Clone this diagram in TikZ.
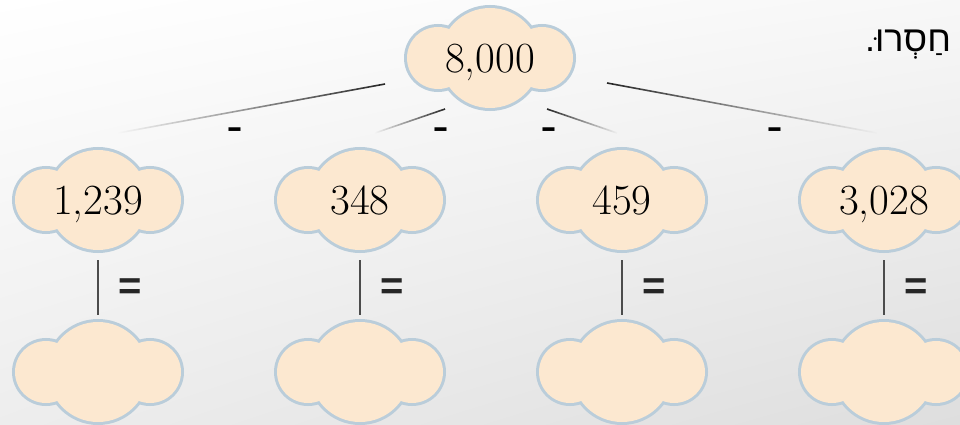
\documentclass[tikz,border=0pt]{standalone}
\usepackage{fontspec}
\newfontfamily\hebfont[Script=Hebrew]{Liberation Sans}
\newfontfamily\signfont{Liberation Sans}
\TeXXeTstate=1
\usetikzlibrary{positioning,fadings,shadings,backgrounds,calc}
\definecolor{peach}{RGB}{252,232,208}
\definecolor{rim}{RGB}{186,205,218}
\tikzfading[name=fadetoleft, left color=transparent!100, middle color=transparent!20, right color=transparent!0]
\tikzfading[name=fadetoright, left color=transparent!0, middle color=transparent!20, right color=transparent!100]
\tikzset{
  cloudrim/.style={draw=rim, line width=6pt},
  cloudbody/.style={fill=peach},
  cloudbox/.style={minimum width=172pt, minimum height=106pt, inner sep=0pt, text depth=0pt, font=\fontsize{43}{43}\selectfont},
  fadeline/.style={line width=1.6pt, draw=black!85},
  stem/.style={line width=1.6pt, draw=black!70},
  minus/.style={font=\fontsize{40}{40}\selectfont\bfseries, inner sep=0pt, anchor=base},
  eqsign/.style={font=\signfont\fontsize{40}{40}\selectfont\bfseries, inner sep=0pt, text=black!85},
  heb/.style={font=\hebfont\fontsize{36}{36}\selectfont, inner sep=0pt, anchor=base}
}
\newcommand{\cloudpuff}[1]{%
  \path[cloudrim] ($(#1)+(-52,0)$) circle[radius=31pt]
    ($(#1)+(52,0)$) circle[radius=31pt] (#1) circle[radius=50pt];
  \path[cloudbody] ($(#1)+(-52,0)$) circle[radius=31pt]
    ($(#1)+(52,0)$) circle[radius=31pt] (#1) circle[radius=50pt];}

\begin{document}
\begin{tikzpicture}[x=1pt, y=-1pt]
  \useasboundingbox (0,0) rectangle (960,425);

  % clouds with numbers
  \node[cloudbox] (top) at (490,58) {8,000};
  \foreach \n/\x/\v in {1/98/{1,239}, 2/360/348, 3/622/459, 4/884/{3,028}} {
    \node[cloudbox] (c\n) at (\x,200) {\v};
    \node[cloudbox] (r\n) at (\x,372) {};
    \draw[stem, shorten <=7pt, shorten >=4pt] (c\n) -- (r\n)
      node[midway, right=20pt, yshift=-3pt, eqsign] {=};
  }

  % instruction
  \node[heb] (cmd) at (908,52) {\beginR חַסְרוּ.\endR};

  % fading links from the top cloud
  \coordinate (a1) at (385,84);  \coordinate (b1) at (118,133);
  \coordinate (a2) at (445,109); \coordinate (b2) at (375,133);
  \coordinate (a3) at (547,109); \coordinate (b3) at (617,133);
  \coordinate (a4) at (607,83);  \coordinate (b4) at (877,133);
  \draw[fadeline, path fading=fadetoleft] (a1) -- (b1);
  \draw[fadeline, path fading=fadetoleft] (a2) -- (b2);
  \draw[fadeline, path fading=fadetoright] (a3) -- (b3);
  \draw[fadeline, path fading=fadetoright] (a4) -- (b4);

  \node[minus] (m1) at (236,139) {-};
  \node[minus] (m2) at (442,139) {-};
  \node[minus] (m3) at (550,139) {-};
  \node[minus] (m4) at (776,139) {-};

  \begin{scope}[on background layer]
    \shade[upper left=white, upper right=black!3, lower left=black!7, lower right=black!13]
      (0,0) rectangle (960,425);
    \cloudpuff{top}
    \foreach \n in {1,...,4} {\cloudpuff{c\n}\cloudpuff{r\n}}
  \end{scope}
\end{tikzpicture}
\end{document}
